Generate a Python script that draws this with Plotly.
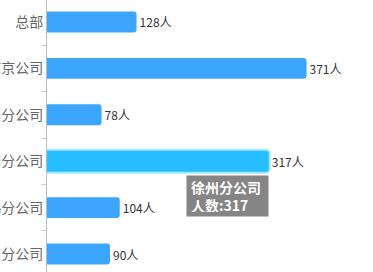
import plotly.graph_objects as go

categories = ["总部", "南京公司", "苏州分公司", "徐州分公司", "无锡分公司", "常州分公司"]
values = [128, 371, 78, 317, 104, 90]
unit = "人"
highlight = "徐州分公司"

FONT = "Noto Sans CJK SC, Microsoft YaHei, sans-serif"

colors = ["#26BEFF" if c == highlight else "#3CA6FF" for c in categories]
line_colors = ["rgba(38,190,255,0.4)" if c == highlight else "rgba(0,0,0,0)" for c in categories]
line_widths = [4 if c == highlight else 0 for c in categories]

fig = go.Figure()
fig.add_trace(go.Bar(
    y=categories,
    x=values,
    orientation="h",
    width=0.45,
    marker=dict(color=colors, cornerradius=3,
                line=dict(color=line_colors, width=line_widths)),
    text=[f"{v}{unit}" for v in values],
    textposition="outside",
    textfont=dict(size=12, color="#333333", family=FONT),
    cliponaxis=False,
    hoverinfo="skip",
))

hv = values[categories.index(highlight)]
fig.add_annotation(
    xref="paper", yref="paper",
    x=0.426, y=1 - 175 / 272,
    xanchor="left", yanchor="top",
    text=f"<b>{highlight}<br>人数:{hv}</b>",
    showarrow=False,
    align="left",
    font=dict(size=14, color="#ffffff", family=FONT),
    bgcolor="rgba(120,120,120,0.9)",
    borderpad=4,
    width=73, height=32,
)

fig.update_layout(
    width=373, height=272,
    margin=dict(l=47, r=0, t=0, b=0, autoexpand=False),
    paper_bgcolor="white", plot_bgcolor="white",
    showlegend=False,
    font=dict(family=FONT),
    xaxis=dict(range=[0, 466], visible=False, showgrid=False, zeroline=False),
    yaxis=dict(
        type="category",
        range=[5.388, -0.474],
        automargin=False,
        showline=True, linecolor="#BBBBBB", linewidth=1,
        ticks="outside", tickson="boundaries", ticklen=5, tickcolor="#CCCCCC",
        tickfont=dict(size=14, color="#666666", family=FONT),
        showgrid=False, zeroline=False,
    ),
)

fig.write_html("out.html")
